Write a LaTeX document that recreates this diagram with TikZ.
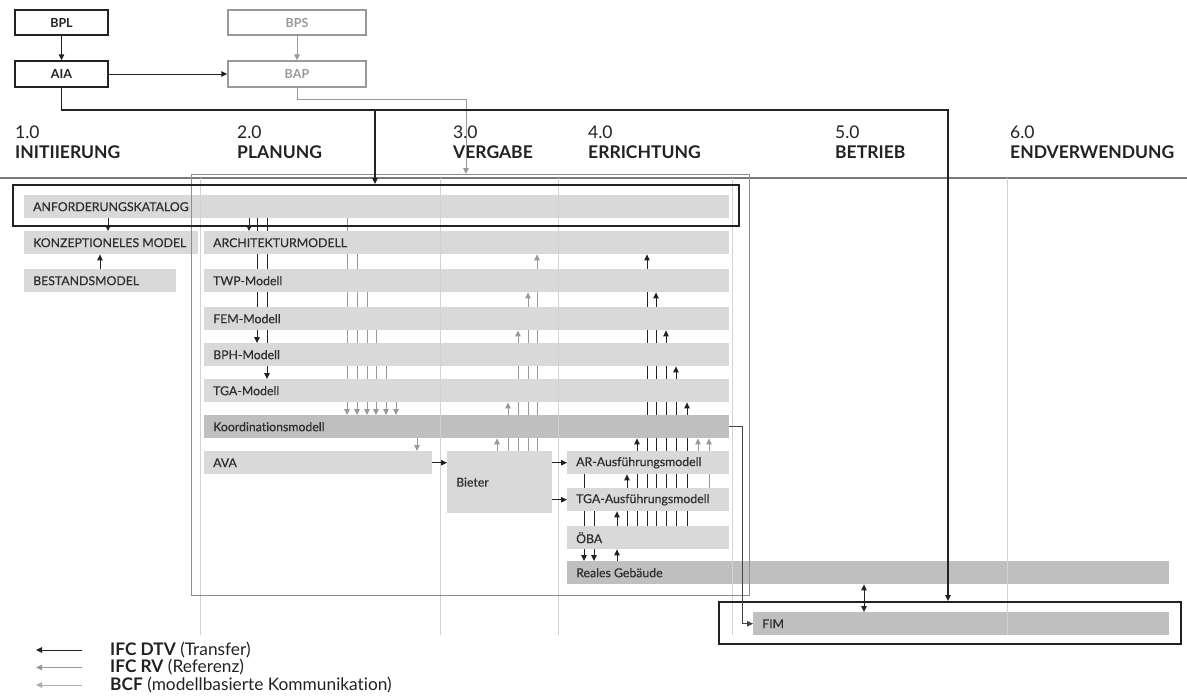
\documentclass[tikz,border=0pt]{standalone}
\usepackage{fontspec}
\setmainfont{Lato}[Ligatures=NoCommon]
\newfontfamily\barfont{Lato}[Ligatures=NoCommon, FakeBold=0.4]
\usetikzlibrary{arrows.meta}

\definecolor{barL}{HTML}{D9D9D9}
\definecolor{barD}{HTML}{BFBFBF}
\definecolor{ink}{HTML}{2E2E2E}
\definecolor{dark}{HTML}{222222}
\definecolor{rvgrey}{HTML}{999999}
\definecolor{bcfgrey}{HTML}{AFAFAF}
\definecolor{frame}{HTML}{8E8E8E}
\definecolor{phasec}{HTML}{D2D2D2}
\definecolor{axisc}{HTML}{7A7A7A}

\pgfdeclarelayer{back}
\pgfsetlayers{back,main}

\tikzset{
  tip/.tip={Triangle[length=6pt,width=5.5pt]},
  bar/.style={draw=none, inner sep=0pt, anchor=north west},
  bartxt/.style={font=\barfont\fontsize{12.3}{14}\selectfont, text=ink, anchor=west,
                 inner sep=0pt, xshift=9pt},
  topbox/.style={draw=dark, line width=1.4pt, inner sep=0pt,
                 minimum height=25pt, font=\bfseries\fontsize{12.5}{14}\selectfont, text=dark},
  greybox/.style={topbox, draw=rvgrey, text=rvgrey},
  blackframe/.style={draw=dark, line width=1.5pt, inner sep=0pt, anchor=north west},
  greyframe/.style={draw=frame, line width=1.3pt, inner sep=0pt, anchor=north west},
  dtv/.style={draw=dark, line width=1pt, -tip},
  dtvbold/.style={draw=dark, line width=1.4pt, -tip},
  rv/.style={draw=rvgrey, line width=1pt, -tip},
  bcf/.style={draw=bcfgrey, line width=1pt, -tip},
  link/.style={draw=dark!85, line width=1pt, -tip},
  phase/.style={draw=phasec, line width=0.9pt},
  phnum/.style={anchor=base west, inner sep=0pt, text=dark, font=\fontsize{17.5}{20}\selectfont},
  phname/.style={phnum, font=\bfseries\fontsize{17.5}{20}\selectfont},
  legtxt/.style={anchor=west, inner sep=0pt, text=dark, font=\fontsize{17.3}{19}\selectfont},
}

% name, x, y (top left), width, height, fill, text
\newcommand\mkbar[7]{%
  \node[bar, fill=#6, minimum width=#4pt, minimum height=#5pt,
        label={[bartxt]west:#7}] (#1) at (#2,#3) {};}

\begin{document}
\begin{tikzpicture}[x=1pt,y=-1pt]
\useasboundingbox (0,0) rectangle (1187,697);
\begin{pgfonlayer}{back}
\fill[white] (0,0) rectangle (1187,697);
\end{pgfonlayer}

% top boxes
\node[topbox, minimum width=93pt] (bpl) at (61.5,22.5) {BPL};
\node[topbox, minimum width=93pt, minimum height=26pt] (aia) at (61.5,74) {AIA};
\node[greybox, minimum width=138pt] (bps) at (297,22.5) {BPS};
\node[greybox, minimum width=138pt, minimum height=26pt] (bap) at (297,74) {BAP};

% phases
\node[phnum]  (p1a) at (15,138)   {1.0};
\node[phname] (p1b) at (15,158.5) {INITIIERUNG};
\node[phnum]  (p2a) at (237,138)   {2.0};
\node[phname] (p2b) at (237,158.5) {PLANUNG};
\node[phnum]  (p3a) at (453,138)   {3.0};
\node[phname] (p3b) at (453,158.5) {VERGABE};
\node[phnum]  (p4a) at (588,138)   {4.0};
\node[phname] (p4b) at (588,158.5) {ERRICHTUNG};
\node[phnum]  (p5a) at (835,138)   {5.0};
\node[phname] (p5b) at (835,158.5) {BETRIEB};
\node[phnum]  (p6a) at (1010,138)   {6.0};
\node[phname] (p6b) at (1010,158.5) {ENDVERWENDUNG};

\draw[axisc, line width=1.2pt] (0,178) -- (1187,178);

% model bars
\mkbar{anf}{24}{195}{705}{23}{barL}{ANFORDERUNGSKATALOG}
\mkbar{konz}{24}{231}{174}{23}{barL}{KONZEPTIONELES MODEL}
\mkbar{best}{24}{269}{152}{23}{barL}{BESTANDSMODEL}
\mkbar{arch}{204}{231}{525}{23}{barL}{ARCHITEKTURMODELL}
\mkbar{twp}{204}{269}{525}{23}{barL}{TWP-Modell}
\mkbar{fem}{204}{307}{525}{23}{barL}{FEM-Modell}
\mkbar{bph}{204}{343}{525}{23}{barL}{BPH-Modell}
\mkbar{tga}{204}{379}{525}{23}{barL}{TGA-Modell}
\mkbar{koord}{204}{415}{525}{23}{barD}{Koordinationsmodell}
\mkbar{ava}{204}{451}{228}{23}{barL}{AVA}
\mkbar{bieter}{447}{451}{105}{62}{barL}{Bieter}
\mkbar{ar}{567}{451}{162}{23}{barL}{AR-Ausführungsmodell}
\mkbar{tgaa}{567}{488}{162}{23}{barL}{TGA-Ausführungsmodell}
\mkbar{oeba}{567}{526}{162}{23}{barL}{ÖBA}
\mkbar{real}{567}{561}{602}{23}{barD}{Reales Gebäude}
\mkbar{fim}{753}{612}{416}{23}{barD}{FIM}

% phase dividers
\foreach \x in {200,440,558,732,1007}
  \draw[phase] (\x,178) -- (\x,635);

% frames
\node[greyframe, minimum width=558pt, minimum height=421pt] (plan) at (191,174) {};
\node[blackframe, minimum width=726pt, minimum height=41pt] (anfbox) at (12,184) {};
\node[blackframe, minimum width=462pt, minimum height=42pt] (fimbox) at (718,601) {};

% exchanges between the models (behind the bars)
\begin{pgfonlayer}{back}
\draw[dtv] (anf.south -| 108,0) -- (konz.north -| 108,0);
\draw[dtv] (best.north -| 100,0) -- (konz.south -| 100,0);
\draw[dtv] (anf.south -| 249,0) -- (arch.north -| 249,0);
\draw[dtv] (anf.south -| 257,0) -- (bph.north -| 257,0);
\draw[dtv] (anf.south -| 267,0) -- (tga.north -| 267,0);
\foreach \s/\x in {anf/347, arch/357, twp/367, fem/376, bph/386, tga/396}
  \draw[rv] (\s.south -| \x,0) -- (koord.north -| \x,0);
\draw[rv] (koord.south -| 417,0) -- (ava.north -| 417,0);
\foreach \t/\x in {koord/497, tga/508, fem/518, twp/528, arch/537}
  \draw[rv] (bieter.north -| \x,0) -- (\t.south -| \x,0);
\draw[dtv] (ar.south -| 584,0) -- (real.north -| 584,0);
\draw[dtv] (tgaa.south -| 594,0) -- (real.north -| 594,0);
\draw[dtv] (real.north -| 617,0) -- (oeba.south -| 617,0);
\draw[dtv] (oeba.north -| 617,0) -- (tgaa.south -| 617,0);
\foreach \t/\x in {ar/627, koord/637, arch/647, twp/656, fem/666, bph/676, tga/687}
  \draw[dtv] (oeba.north -| \x,0) -- (\t.south -| \x,0);
\draw[rv] (ar.north -| 698,0) -- (koord.south -| 698,0);
\draw[rv] (tgaa.north -| 709,0) -- (koord.south -| 709,0);
\end{pgfonlayer}

\draw[dtv] (ava.east) -- (bieter.west |- ava.east);
\draw[dtv] (bieter.east |- ar.west) -- (ar.west);
\draw[dtv] (bieter.east |- tgaa.west) -- (tgaa.west);

% top level flows
\coordinate (jA) at (375,110);
\coordinate (jF) at (948,110);
\coordinate (jB) at (466,99);
\draw[dtv] (bpl) -- (aia);
\draw[rv] (bps) -- (bap);
\draw[dtv] (aia) -- (bap);
\draw[rv] (bap.south) |- (jB) -- (plan.north -| jB);
\draw[dtvbold] (aia.south) |- (jF) -- (fimbox.north -| jF);
\draw[dtvbold] (jA) -- (anfbox.north -| jA);
\draw[link] (koord.east) -- ++(13,0) |- (fim.west);
\draw[dtv, tip-tip] (real.south -| 864,0) -- (fim.north -| 864,0);

% legend
\coordinate (l1s) at (82,650);  \coordinate (l1e) at (36,650);
\coordinate (l2s) at (82,667.5); \coordinate (l2e) at (36,667.5);
\coordinate (l3s) at (82,685);  \coordinate (l3e) at (36,685);
\draw[dtv] (l1s) -- (l1e);
\draw[rv] (l2s) -- (l2e);
\draw[bcf] (l3s) -- (l3e);
\node[legtxt] (lg1) at (110,650)   {\textbf{IFC DTV} (Transfer)};
\node[legtxt] (lg2) at (110,667.5) {\textbf{IFC RV} (Referenz)};
\node[legtxt] (lg3) at (110,685)   {\textbf{BCF} (modellbasierte Kommunikation)};
\end{tikzpicture}
\end{document}
